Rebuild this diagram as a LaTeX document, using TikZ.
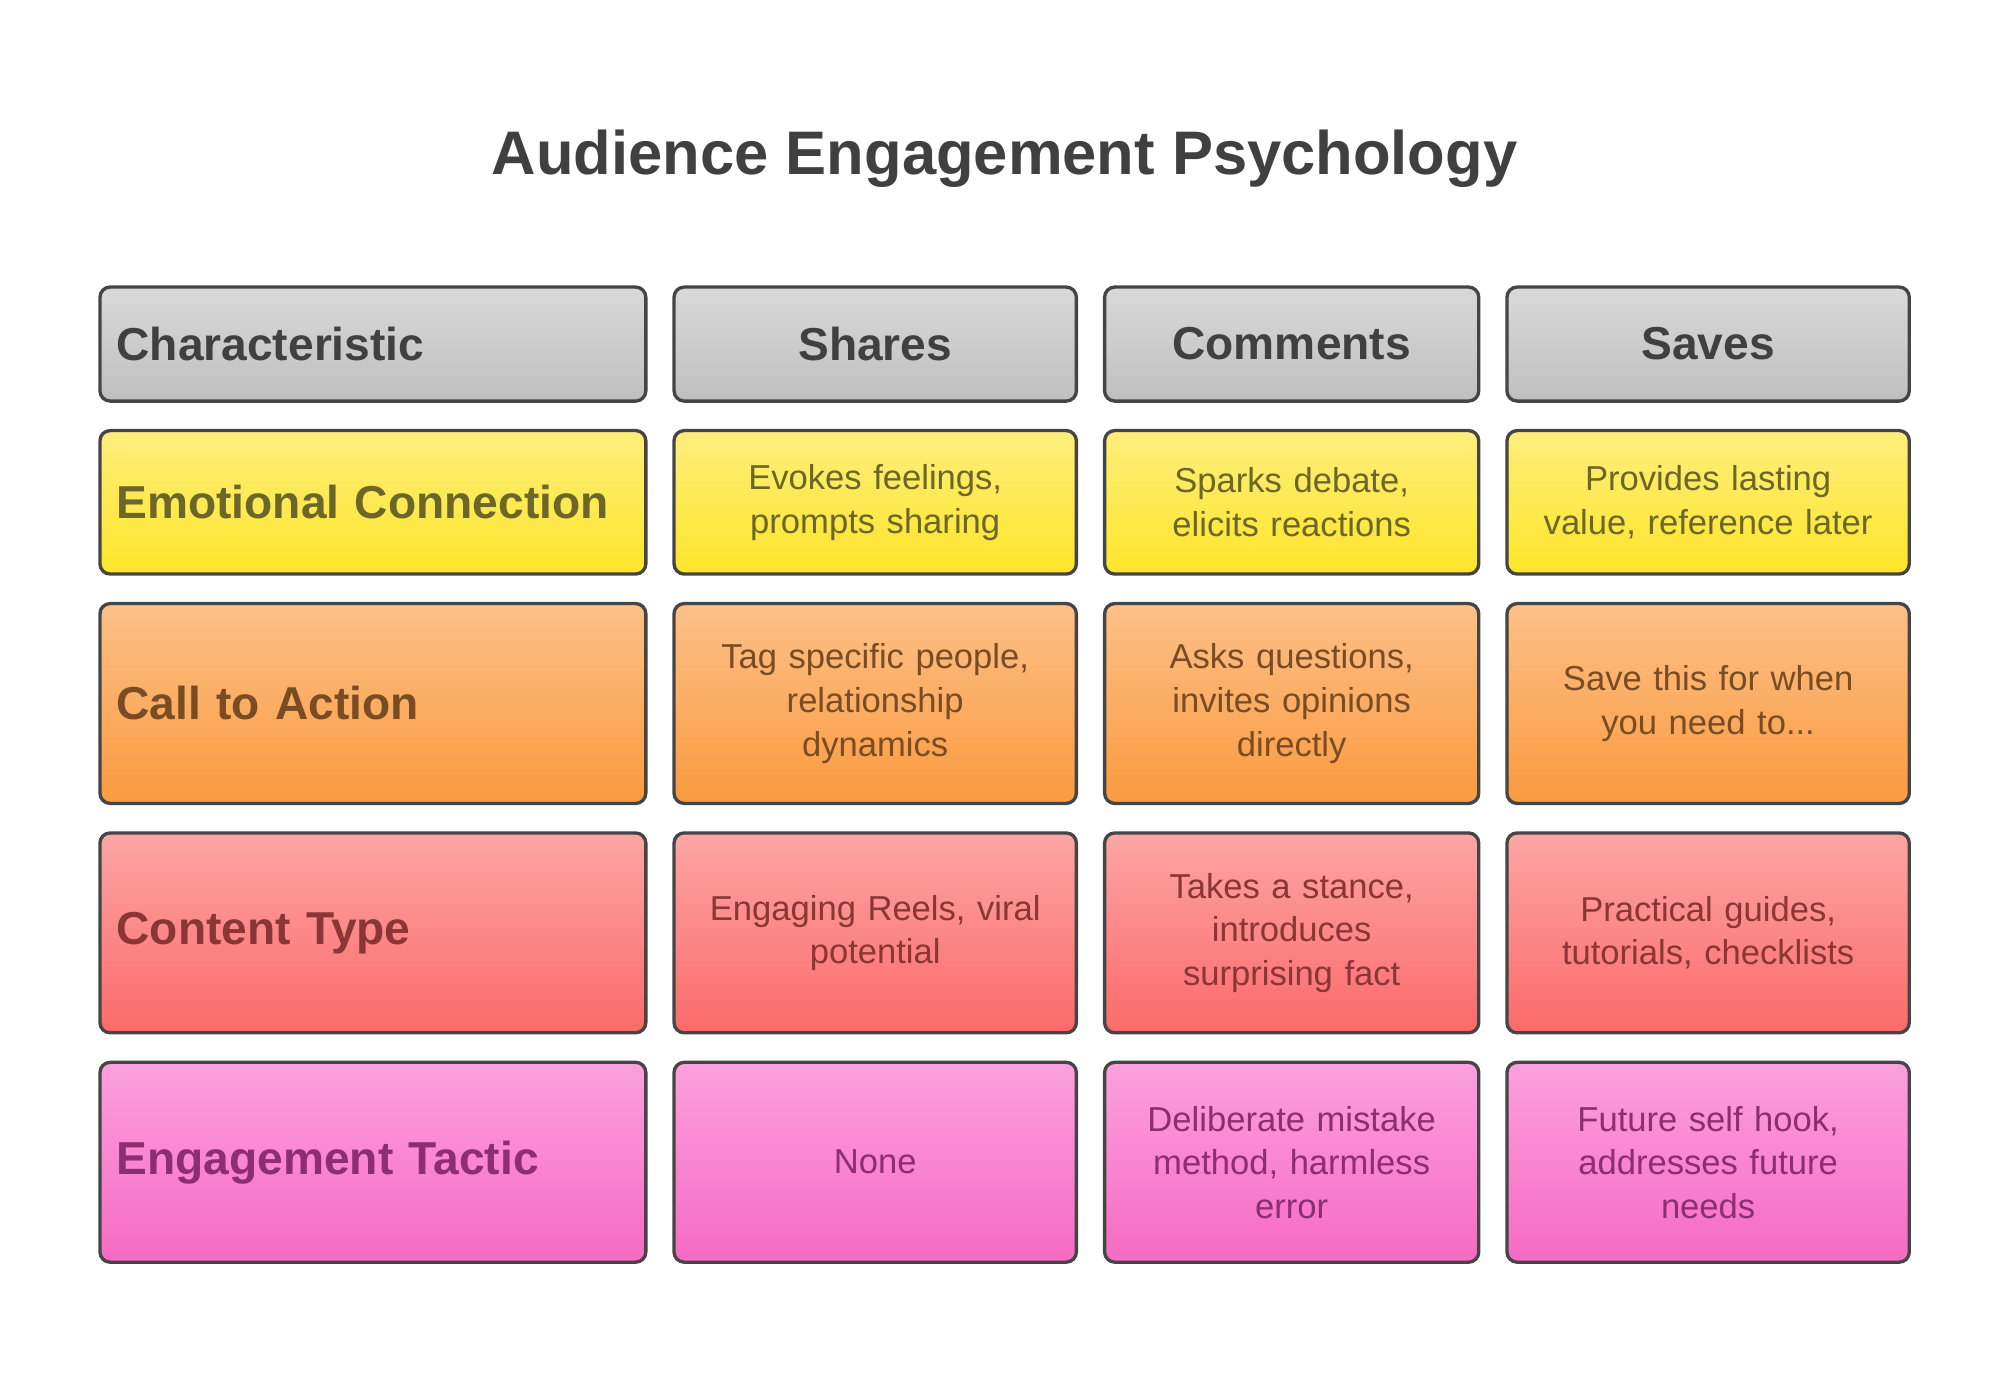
\documentclass[tikz,border=0pt]{standalone}
\usepackage{fontspec}
\setmainfont{Liberation Sans}
\usetikzlibrary{positioning}
\definecolor{edgegray}{HTML}{454545}
\definecolor{titlegray}{HTML}{404040}
\tikzset{
    cell/.style={draw=edgegray,line width=2.6pt,rounded corners=8pt,align=center,
        inner sep=0pt,minimum height=#1},
    cell/.default=156pt,
    gray cell/.style={top color=gray!30,bottom color=gray!50,text=titlegray},
    yellow cell/.style={top color={rgb,255:red,253;green,238;blue,125},bottom color={rgb,255:red,253;green,229;blue,40},text={rgb,255:red,108;green,102;blue,40}},
    orange cell/.style={top color={rgb,255:red,253;green,192;blue,136},bottom color={rgb,255:red,249;green,154;blue,62},text={rgb,255:red,122;green,76;blue,36}},
    red cell/.style={top color={rgb,255:red,253;green,165;blue,165},bottom color={rgb,255:red,251;green,106;blue,106},text={rgb,255:red,138;green,54;blue,54}},
    pink cell/.style={top color={rgb,255:red,252;green,160;blue,221},bottom color={rgb,255:red,246;green,106;blue,196},text={rgb,255:red,140;green,46;blue,112}},
    head/.style={font=\fontsize{36}{40}\selectfont\bfseries},
    rowhead/.style={font=\fontsize{36}{40}\selectfont\bfseries,text width=400pt,align=left},
    body/.style={font=\fontsize{27}{34}\selectfont,text width=280pt},
}
\begin{document}
\begin{tikzpicture}[x=1pt,y=-1pt]
    \useasboundingbox (0,0) rectangle (1560,1092.5);
    \node[titlegray,font=\fontsize{48}{52}\selectfont\bfseries] (title) at (784,124) {Audience Engagement Psychology};

    % header row
    \node[cell=89pt,gray cell,minimum width=426pt,head,text width=400pt,align=left] (hc) at (291,268.5) {Characteristic};
    \node[cell=89pt,gray cell,minimum width=314pt,head] (hs) at (683,268.5) {Shares};
    \node[cell=89pt,gray cell,minimum width=292pt,head] (hm) at (1008,268.5) {Comments};
    \node[cell=89pt,gray cell,minimum width=314pt,head] (hv) at (1333,268.5) {Saves};

    % emotional connection
    \node[cell=112pt,yellow cell,minimum width=426pt,rowhead] (ec) at (291,392) {Emotional Connection};
    \node[cell=112pt,yellow cell,minimum width=314pt,body] (es) at (683,392) {Evokes feelings,\\prompts sharing};
    \node[cell=112pt,yellow cell,minimum width=292pt,body] (em) at (1008,392) {Sparks debate,\\elicits reactions};
    \node[cell=112pt,yellow cell,minimum width=314pt,body] (ev) at (1333,392) {Provides lasting\\value, reference later};

    % call to action
    \node[cell,orange cell,minimum width=426pt,rowhead] (ac) at (291,549) {Call to Action};
    \node[cell,orange cell,minimum width=314pt,body] (as) at (683,549) {Tag specific people,\\relationship\\dynamics};
    \node[cell,orange cell,minimum width=292pt,body] (am) at (1008,549) {Asks questions,\\invites opinions\\directly};
    \node[cell,orange cell,minimum width=314pt,body] (av) at (1333,549) {Save this for when\\you need to...};

    % content type
    \node[cell,red cell,minimum width=426pt,rowhead] (tc) at (291,728) {Content Type};
    \node[cell,red cell,minimum width=314pt,body] (ts) at (683,728) {Engaging Reels, viral\\potential};
    \node[cell,red cell,minimum width=292pt,body] (tm) at (1008,728) {Takes a stance,\\introduces\\surprising fact};
    \node[cell,red cell,minimum width=314pt,body] (tv) at (1333,728) {Practical guides,\\tutorials, checklists};

    % engagement tactic
    \node[cell,pink cell,minimum width=426pt,rowhead] (gc) at (291,907) {Engagement Tactic};
    \node[cell,pink cell,minimum width=314pt,body] (gs) at (683,907) {None};
    \node[cell,pink cell,minimum width=292pt,body] (gm) at (1008,907) {Deliberate mistake\\method, harmless\\error};
    \node[cell,pink cell,minimum width=314pt,body] (gv) at (1333,907) {Future self hook,\\addresses future\\needs};
\end{tikzpicture}
\end{document}
